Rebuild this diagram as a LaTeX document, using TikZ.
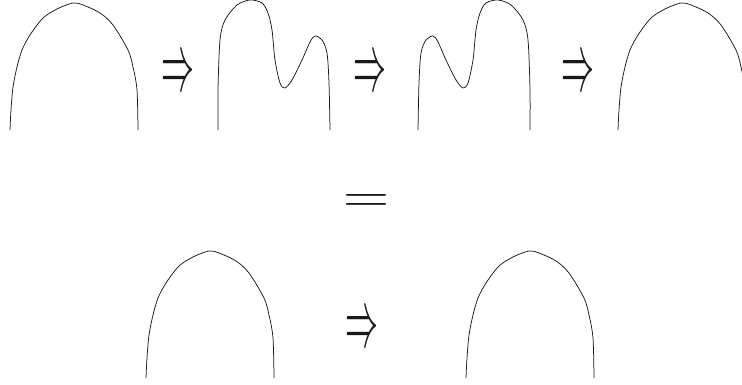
\documentclass[tikz,border=0pt]{standalone}
\usepackage{graphicx}
\usetikzlibrary{positioning}
\definecolor{Ink}{HTML}{1A1A1A}
\tikzset{
  arch/.style={draw=Ink, line width=0.75pt, line join=round},
  implies/.style={inner sep=0pt, text=Ink},
  equals/.style={inner sep=0pt, text=Ink}
}
\newcommand{\bigimp}{\resizebox{33pt}{30pt}{$\Rightarrow$}}
\newcommand{\bigeq}{\resizebox{47pt}{17pt}{$=$}}

\begin{document}
\begin{tikzpicture}[x=1pt,y=-1pt]
    \useasboundingbox (0,0) rectangle (742,385);
    % top row
    \draw[arch] plot[smooth] coordinates {(10,130) (11,110) (13,87) (17,67) (22,50) (30,35) (43,18) (57,9) (73,3) (83,5) (100,13) (113,25) (128,50) (133,67) (137,90) (138,130)};
    \draw[arch] plot[smooth] coordinates {(218,130) (218,90) (220,40) (225,20) (237,5) (250,0) (262,3) (268,13) (272,30) (275,60) (280,83) (285,88) (292,80) (302,60) (310,42) (315,36) (322,40) (327,53) (329,83) (330,130)};
    \draw[arch] plot[smooth] coordinates {(530,130) (530,90) (528,40) (523,20) (511,5) (498,0) (486,3) (480,13) (476,30) (473,60) (468,83) (463,88) (456,80) (446,60) (438,42) (433,36) (426,40) (421,53) (419,83) (418,130)};
    \begin{scope}[shift={(608,0)}]
      \draw[arch] plot[smooth] coordinates {(10,130) (11,110) (13,87) (17,67) (22,50) (30,35) (43,18) (57,9) (73,3) (83,5) (100,13) (113,25) (128,50) (133,67) (137,90) (138,130)};
    \end{scope}
    \node[implies] (imp1) at (178,75) {\bigimp};
    \node[implies] (imp2) at (370,75) {\bigimp};
    \node[implies] (imp3) at (578,75) {\bigimp};
    % middle
    \node[equals] (eq) at (366,203) {\bigeq};
    % bottom row
    \begin{scope}[shift={(136,248)}]
      \draw[arch] plot[smooth] coordinates {(10,130) (11,110) (13,87) (17,67) (22,50) (30,35) (43,18) (57,9) (73,3) (83,5) (100,13) (113,25) (128,50) (133,67) (137,90) (138,130)};
    \end{scope}
    \begin{scope}[shift={(456,248)}]
      \draw[arch] plot[smooth] coordinates {(10,130) (11,110) (13,87) (17,67) (22,50) (30,35) (43,18) (57,9) (73,3) (83,5) (100,13) (113,25) (128,50) (133,67) (137,90) (138,130)};
    \end{scope}
    \node[implies] (imp4) at (362,331) {\bigimp};
  \end{tikzpicture}
\end{document}
